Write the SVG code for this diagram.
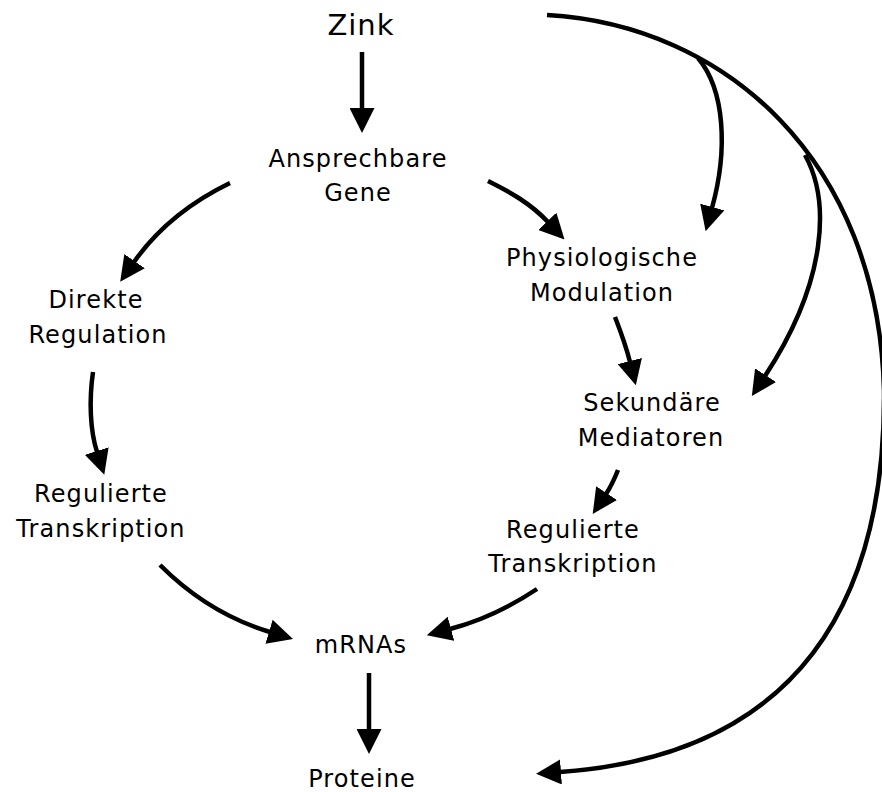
<svg xmlns="http://www.w3.org/2000/svg" width="882" height="792" viewBox="0 0 882 792">
<style>
.lbl{font-family:"DejaVu Sans","Verdana",sans-serif;font-size:24px;letter-spacing:1.1px;fill:#000;text-anchor:middle}
.big{font-size:29px;letter-spacing:1px}
.con{fill:none;stroke:#000;stroke-width:4.5;marker-end:url(#ah)}
</style>
<defs>
<marker id="ah" markerUnits="userSpaceOnUse" markerWidth="25" markerHeight="25" viewBox="0 0 25 25" refX="1" refY="12.5" orient="auto">
<path d="M0,0 L25,12.5 L0,25 z" fill="#000"/>
</marker>
</defs>
<rect width="882" height="792" fill="#fff"/>
<g id="connectors">
<path class="con" d="M362,52 L362,109"/>
<path class="con" d="M230,183 C195,200 160,225 134,262"/>
<path class="con" d="M488,181 C510,192 530,203 548,222"/>
<path class="con" d="M93,372 C89,400 90,430 97,452"/>
<path class="con" d="M160,565 C195,600 230,620 270,632"/>
<path class="con" d="M615,317 C622,335 627,350 630,362"/>
<path class="con" d="M618,470 Q612,485 606,494"/>
<path class="con" d="M537,589 C510,607 480,621 450,629"/>
<path class="con" d="M369,673 L369,730"/>
<path class="con" d="M547,15 C725,25 878,160 884,390 C886,600 800,755 560,772"/>
<path class="con" d="M698,58 C725,90 728,150 712,208"/>
<path class="con" d="M805,155 C830,200 828,280 765,376"/>
</g>
<g id="zink"><text class="lbl big" x="361" y="35">Zink</text></g>
<g id="ansprechbare"><text class="lbl" x="358" y="167">Ansprechbare</text><text class="lbl" x="358" y="201">Gene</text></g>
<g id="direkte"><text class="lbl" x="96" y="308">Direkte</text><text class="lbl" x="98" y="343">Regulation</text></g>
<g id="regulierte-links"><text class="lbl" x="101" y="502">Regulierte</text><text class="lbl" x="101" y="537">Transkription</text></g>
<g id="physiologische"><text class="lbl" x="602" y="266">Physiologische</text><text class="lbl" x="602" y="301">Modulation</text></g>
<g id="sekundaere"><text class="lbl" x="652" y="411">Sekundäre</text><text class="lbl" x="651" y="446">Mediatoren</text></g>
<g id="regulierte-rechts"><text class="lbl" x="573" y="538">Regulierte</text><text class="lbl" x="573" y="572">Transkription</text></g>
<g id="mrnas"><text class="lbl" x="361" y="653">mRNAs</text></g>
<g id="proteine"><text class="lbl" x="362" y="787">Proteine</text></g>
</svg>
